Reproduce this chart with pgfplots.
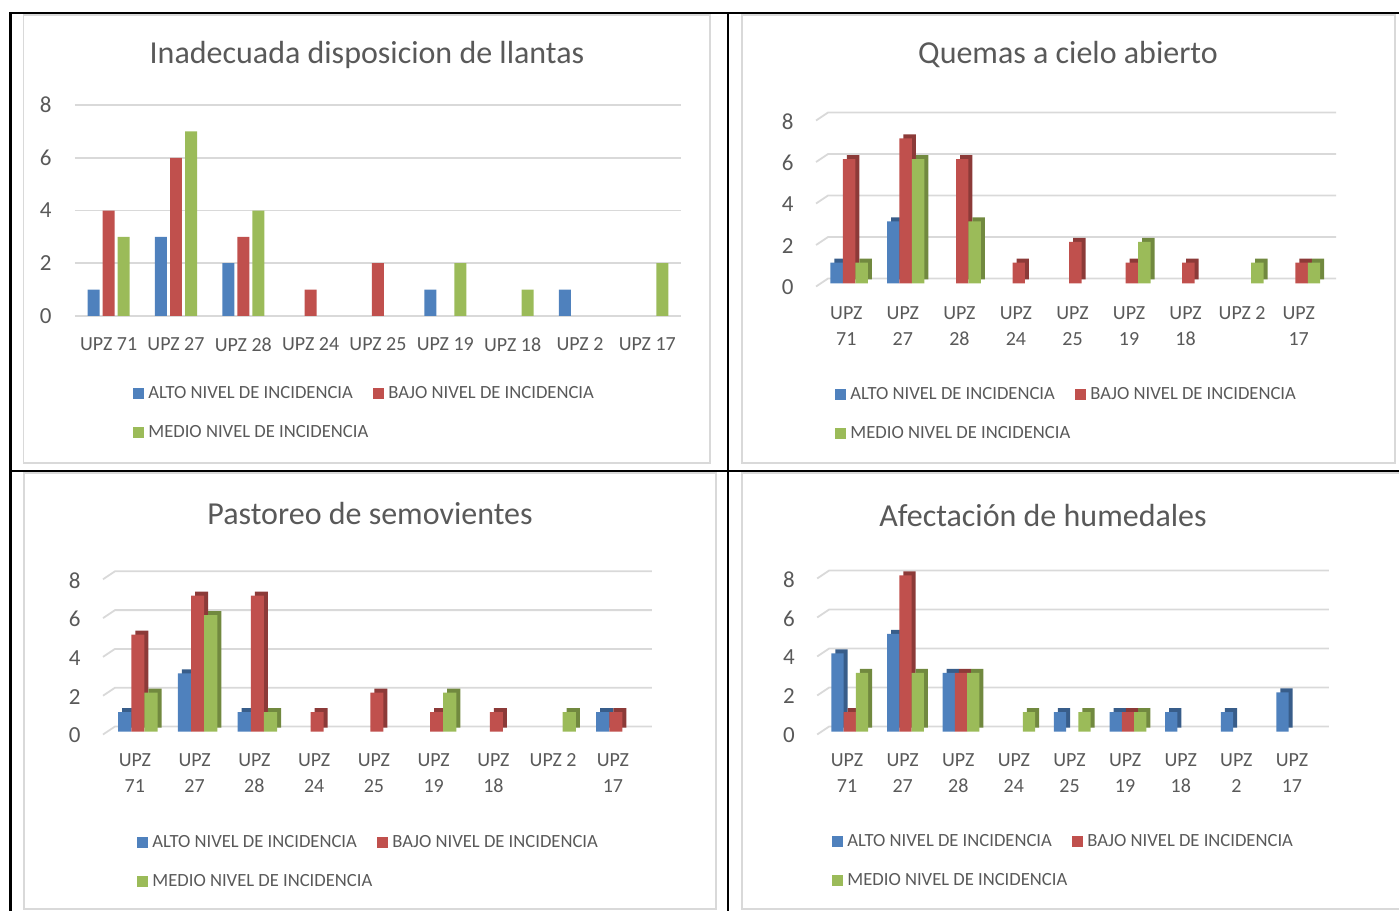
\documentclass[border=0pt]{standalone}
\usepackage{pgfplots}
\pgfplotsset{compat=1.18}
\usepackage{fontspec}
\setmainfont{Carlito}

\definecolor{cblue}{HTML}{4F81BD}
\definecolor{cblueD}{HTML}{385D8A}
\definecolor{cred}{HTML}{C0504D}
\definecolor{credD}{HTML}{8C3A38}
\definecolor{cgreen}{HTML}{9BBB59}
\definecolor{cgreenD}{HTML}{71893F}
\definecolor{gridc}{HTML}{D9D9D9}
\definecolor{txt}{HTML}{595959}

\pgfplotsset{
  sq/.style={legend image code/.code={\fill[##1,draw=none] (0pt,-2.75pt) rectangle (5.5pt,2.75pt);}},
  chartbase/.style={
    scale only axis, clip=false, anchor=south west,
    xmin=-0.5, xmax=8.5, ymin=0, ymax=8,
    ytick={0,2,4,6,8}, xtick={0,...,8},
    axis line style={draw=none}, major tick length=0pt,
    tick label style={font=\fontsize{10}{13}\selectfont, text=txt, inner sep=0pt},
    xticklabel style={anchor=north},
    yticklabel style={anchor=east, font=\fontsize{11.5}{13}\selectfont},
    /pgf/number format/assume math mode=true,
    legend columns=2, legend cell align=left,
    legend style={draw=none, fill=none, anchor=west, inner sep=0pt,
      font=\fontsize{9.3}{11}\selectfont, text=txt, row sep=11.5pt,
      nodes={inner sep=0pt, text height=6.5pt, text depth=1.5pt},
      /tikz/every odd column/.append style={column sep=2pt},
      /tikz/every even column/.append style={column sep=2.5pt}},
  },
}

% flat bars
\newcommand{\fbar}[3]{\addplot[ybar, bar width=0.178, bar shift=#2, fill=#1, draw=none, sq] coordinates {#3};}
% bars with a darker side and top
\newcommand{\tbar}[4]{%
  \addplot[ybar, bar width=0.22, bar shift=#3, fill=#2, draw=none, xshift=2pt, yshift=2pt, forget plot] coordinates {#4};
  \addplot[ybar, bar width=0.22, bar shift=#3, fill=#1, draw=none, sq] coordinates {#4};}
\newcommand{\backgrid}{\pgfplotsinvokeforeach{0,2,4,6,8}{\draw[gridc, line width=0.9pt]
  ([xshift=-1pt,yshift=-1.5pt]axis cs:-0.5,##1) -- ([xshift=5pt,yshift=2.5pt]axis cs:-0.5,##1)
  -- ([xshift=4.5pt,yshift=2.5pt]axis cs:8.5,##1);}}
\newcommand{\leg}{\legend{ALTO NIVEL DE INCIDENCIA, BAJO NIVEL DE INCIDENCIA, MEDIO NIVEL DE INCIDENCIA}}

\begin{document}
\begin{tikzpicture}
\path[use as bounding box] (0,0) rectangle (699.5pt,455.5pt);

% table rules
\draw[line width=1.2pt] (5.25pt,0) -- (5.25pt,449pt);
\draw[line width=1pt] (4.65pt,449pt) -- (699.5pt,449pt);
\draw[line width=1pt] (364pt,0) -- (364pt,449pt);
\draw[line width=1pt] (4.65pt,219.75pt) -- (699.5pt,219.75pt);

% chart frames
\draw[gridc, line width=0.9pt] (11.75pt,224pt) rectangle (355pt,448pt);
\draw[gridc, line width=0.9pt] (371pt,224pt) rectangle (697.5pt,448pt);
\draw[gridc, line width=0.9pt] (12pt,1pt) rectangle (358pt,219pt);
\draw[gridc, line width=0.9pt] (371pt,1pt) rectangle (710pt,219pt);

% titles
\node[font=\fontsize{16}{18}\selectfont, text=txt] at (183.5pt,428pt) {Inadecuada disposicion de llantas};
\node[font=\fontsize{16}{18}\selectfont, text=txt] at (534pt,428pt) {Quemas a cielo abierto};
\node[font=\fontsize{16}{18}\selectfont, text=txt] at (185pt,198.5pt) {Pastoreo de semovientes};
\node[font=\fontsize{16}{18}\selectfont, text=txt] at (521.5pt,197.5pt) {Afectación de humedales};

% 1: Inadecuada disposicion de llantas
\begin{axis}[chartbase, at={(37.5pt,297.5pt)}, width=303pt, height=105.5pt,
  ymajorgrids, major grid style={draw=gridc, line width=0.9pt},
  xticklabels={UPZ 71,UPZ 27,UPZ 28,UPZ 24,UPZ 25,UPZ 19,UPZ 18,UPZ 2,UPZ 17},
  xticklabel style={yshift=-10.75pt}, yticklabel style={xshift=-11.5pt},
  legend style={at={(0.0957,-0.462)}}]
\fbar{cblue}{-0.223}{(0,1) (1,3) (2,2) (5,1) (7,1)}
\fbar{cred}{0}{(0,4) (1,6) (2,3) (3,1) (4,2)}
\fbar{cgreen}{0.223}{(0,3) (1,7) (2,4) (5,2) (6,1) (8,2)}
\leg
\end{axis}

% 2: Quemas a cielo abierto
\begin{axis}[chartbase, at={(409pt,313.75pt)}, width=254.5pt, height=83pt,
  xticklabels={{UPZ\\71},{UPZ\\27},{UPZ\\28},{UPZ\\24},{UPZ\\25},{UPZ\\19},{UPZ\\18},{UPZ 2},{UPZ\\17}},
  xticklabel style={align=center, yshift=-11.5pt}, yticklabel style={xshift=-12pt, yshift=-2pt},
  legend style={at={(0.0334,-0.789)}}]
\backgrid
\tbar{cblue}{cblueD}{-0.17}{(0,1) (1,3)}
\tbar{cred}{credD}{0.05}{(0,6) (1,7) (2,6) (3,1) (4,2) (5,1) (6,1) (8,1)}
\tbar{cgreen}{cgreenD}{0.27}{(0,1) (1,6) (2,3) (5,2) (7,1) (8,1)}
\leg
\end{axis}

% 3: Pastoreo de semovientes
\begin{axis}[chartbase, at={(52.5pt,89.75pt)}, width=268.9pt, height=77.6pt,
  xticklabels={{UPZ\\71},{UPZ\\27},{UPZ\\28},{UPZ\\24},{UPZ\\25},{UPZ\\19},{UPZ\\18},{UPZ 2},{UPZ\\17}},
  xticklabel style={align=center, yshift=-11pt}, yticklabel style={xshift=-12pt, yshift=-2pt},
  legend style={at={(0.0595,-0.838)}}]
\backgrid
\tbar{cblue}{cblueD}{-0.17}{(0,1) (1,3) (2,1) (8,1)}
\tbar{cred}{credD}{0.05}{(0,5) (1,7) (2,7) (3,1) (4,2) (5,1) (6,1) (8,1)}
\tbar{cgreen}{cgreenD}{0.27}{(0,2) (1,6) (2,1) (5,2) (7,1)}
\leg
\end{axis}

% 4: Afectacion de humedales
\begin{axis}[chartbase, at={(409.6pt,89.75pt)}, width=250.3pt, height=78pt,
  xticklabels={{UPZ\\71},{UPZ\\27},{UPZ\\28},{UPZ\\24},{UPZ\\25},{UPZ\\19},{UPZ\\18},{UPZ\\2},{UPZ\\17}},
  xticklabel style={align=center, yshift=-11pt}, yticklabel style={xshift=-12pt, yshift=-2pt},
  legend style={at={(0.0256,-0.833)}}]
\backgrid
\tbar{cblue}{cblueD}{-0.17}{(0,4) (1,5) (2,3) (4,1) (5,1) (6,1) (7,1) (8,2)}
\tbar{cred}{credD}{0.05}{(0,1) (1,8) (2,3) (5,1)}
\tbar{cgreen}{cgreenD}{0.27}{(0,3) (1,3) (2,3) (3,1) (4,1) (5,1)}
\leg
\end{axis}
\end{tikzpicture}
\end{document}
